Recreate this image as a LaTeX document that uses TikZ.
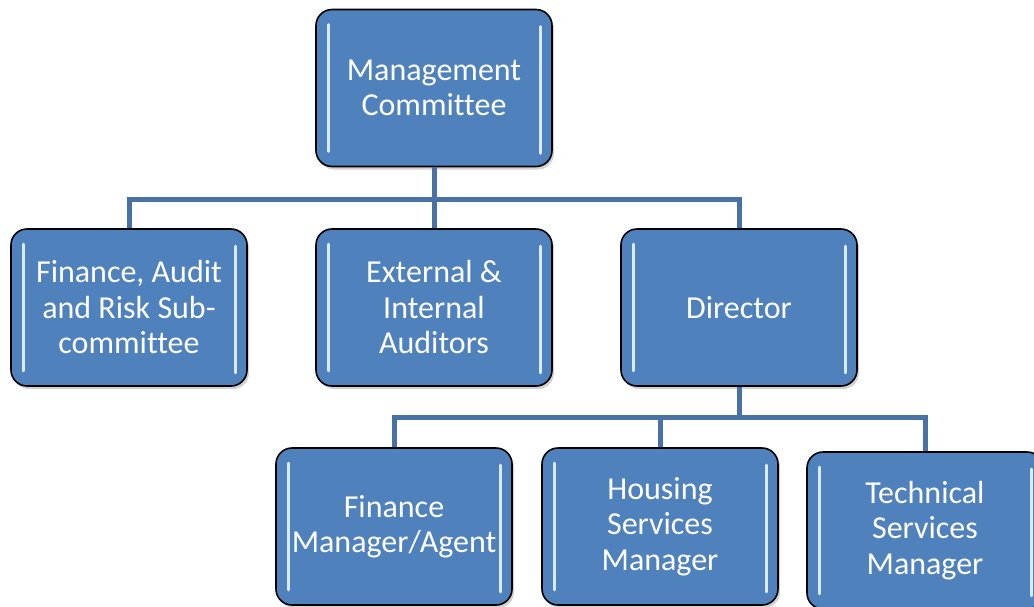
\documentclass[tikz,border=0pt]{standalone}
\usepackage{fontspec}
\setmainfont{Carlito}[Ligatures=NoCommon]
\usetikzlibrary{shadows,calc}
\definecolor{boxblue}{RGB}{79,129,189}
\definecolor{linkblue}{RGB}{72,113,165}
\definecolor{hilite}{RGB}{215,235,252}
\tikzset{
  orgbox/.style={draw=black, line width=1.6pt, fill=boxblue, rounded corners=16pt,
    minimum width=236pt, minimum height=157pt, inner sep=0pt, align=center,
    text=white, font=\fontsize{32}{35.5}\selectfont,
    drop shadow={opacity=0.35, shadow xshift=2pt, shadow yshift=-3pt}},
  conn/.style={draw=linkblue, line width=5pt, line join=miter},
  hl/.style={draw=hilite, line width=3pt, line cap=round}
}
\newcommand{\shine}[1]{%
  \draw[hl] ([xshift=13pt,yshift=-16pt]#1.north west) -- ([xshift=13pt,yshift=16pt]#1.south west);
  \draw[hl] ([xshift=-12pt,yshift=-18pt]#1.north east) -- ([xshift=-12pt,yshift=14pt]#1.south east);
}
\begin{document}
\begin{tikzpicture}[x=1pt,y=-1pt]
\useasboundingbox (0,0) rectangle (1034,606);
\fill[white] (0,0) rectangle (1034,606);
\node[orgbox] (mc) at (434,88) {Management\\Committee};
\node[orgbox] (fa) at (129,307.5) {Finance, Audit\\and Risk Sub-\\committee};
\node[orgbox] (ea) at (434,307.5) {External \&\\Internal\\Auditors};
\node[orgbox] (dir) at (739,307.5) {Director};
\node[orgbox] (fm) at (394,526.5) {Finance\\Manager/Agent};
\node[orgbox] (hs) at (660,526.5) {Housing\\Services\\Manager};
\node[orgbox] (ts) at (925,530.5) {Technical\\Services\\Manager};
\foreach \n in {mc,fa,ea,dir,fm,hs,ts}{\shine{\n}}
\coordinate (j1) at ($(mc.south)+(0,32)$);
\coordinate (j2) at ($(dir.south)+(0,31)$);
\draw[conn] (mc.south) -- (j1);
\draw[conn] (j1) -| (fa.north);
\draw[conn] (j1) -| (dir.north);
\draw[conn] (j1) -- (ea.north);
\draw[conn] (dir.south) -- (j2);
\draw[conn] (j2) -| (fm.north);
\draw[conn] (j2) -| (hs.north);
\draw[conn] (j2) -| (ts.north);
\end{tikzpicture}
\end{document}
